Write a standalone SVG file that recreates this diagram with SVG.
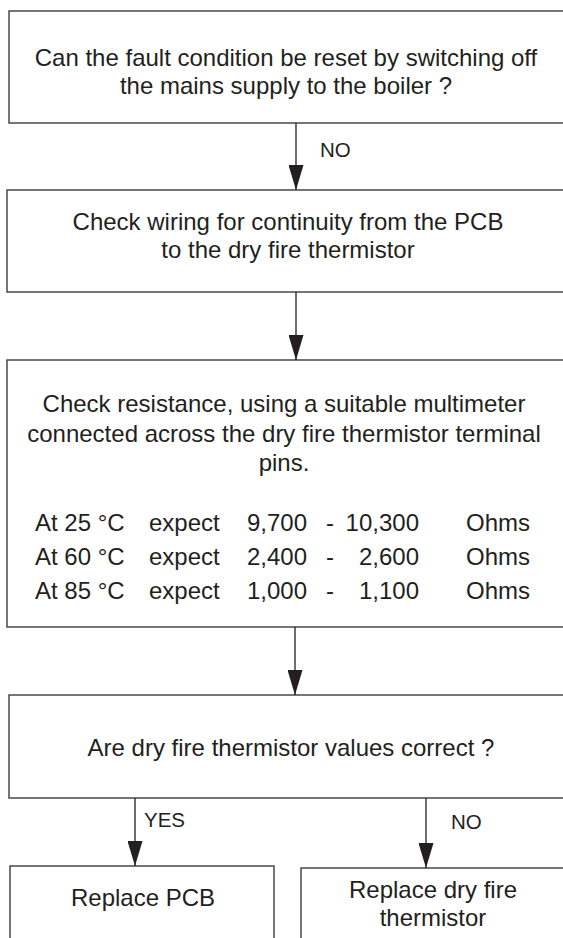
<svg xmlns="http://www.w3.org/2000/svg" width="563" height="938" viewBox="0 0 563 938">
<defs>
<style>
.box{fill:#fff;stroke:#3c3c3c;stroke-width:1.4}
.t{font-family:"Liberation Sans",Arial,sans-serif;font-size:24px;fill:#231f20;text-anchor:middle}
.tl{font-family:"Liberation Sans",Arial,sans-serif;font-size:24px;fill:#231f20}
.tr{font-family:"Liberation Sans",Arial,sans-serif;font-size:24px;fill:#231f20;text-anchor:end}
.lbl{font-family:"Liberation Sans",Arial,sans-serif;font-size:20.5px;fill:#231f20}
.c{stroke:#231f20;stroke-width:1.3;fill:none}
</style>
<marker id="ah" markerUnits="userSpaceOnUse" markerWidth="25" markerHeight="15" viewBox="0 0 25 15" refX="25" refY="7.5" orient="auto">
<path d="M0,0 L25,7.5 L0,15 Z" fill="#231f20"/>
</marker>
</defs>
<rect width="563" height="938" fill="#fff"/>
<g id="n1">
<rect class="box" x="9" y="11" width="570" height="112"/>
<text class="t" x="286" y="66">Can the fault condition be reset by switching off</text>
<text class="t" x="286" y="94">the mains supply to the boiler ?</text>
</g>
<g id="n2">
<rect class="box" x="7" y="190" width="572" height="102"/>
<text class="t" x="288" y="230">Check wiring for continuity from the PCB</text>
<text class="t" x="288" y="258">to the dry fire thermistor</text>
</g>
<g id="n3">
<rect class="box" x="7" y="360" width="572" height="267"/>
<text class="t" x="284" y="412">Check resistance, using a suitable multimeter</text>
<text class="t" x="284" y="442">connected across the dry fire thermistor terminal</text>
<text class="t" x="284" y="471">pins.</text>
<text class="tl" x="35" y="531">At 25 °C</text>
<text class="tl" x="149" y="531">expect</text>
<text class="tr" x="307" y="531">9,700</text>
<text class="t" x="330" y="531">-</text>
<text class="tr" x="419" y="531">10,300</text>
<text class="tl" x="466" y="531">Ohms</text>
<text class="tl" x="35" y="565">At 60 °C</text>
<text class="tl" x="149" y="565">expect</text>
<text class="tr" x="307" y="565">2,400</text>
<text class="t" x="330" y="565">-</text>
<text class="tr" x="419" y="565">2,600</text>
<text class="tl" x="466" y="565">Ohms</text>
<text class="tl" x="35" y="599">At 85 °C</text>
<text class="tl" x="149" y="599">expect</text>
<text class="tr" x="307" y="599">1,000</text>
<text class="t" x="330" y="599">-</text>
<text class="tr" x="419" y="599">1,100</text>
<text class="tl" x="466" y="599">Ohms</text>
</g>
<g id="n4">
<rect class="box" x="9" y="695" width="570" height="103"/>
<text class="t" x="291" y="756">Are dry fire thermistor values correct ?</text>
</g>
<g id="n5">
<rect class="box" x="10" y="866" width="264" height="90"/>
<text class="t" x="143" y="906">Replace PCB</text>
</g>
<g id="n6">
<rect class="box" x="301" y="868" width="280" height="90"/>
<text class="t" x="433" y="898">Replace dry fire</text>
<text class="t" x="433" y="926">thermistor</text>
</g>
<g id="connectors">
<line class="c" x1="296" y1="123" x2="296" y2="190" marker-end="url(#ah)"/>
<text class="lbl" x="320" y="157">NO</text>
<line class="c" x1="296" y1="292" x2="296" y2="360" marker-end="url(#ah)"/>
<line class="c" x1="295" y1="627" x2="295" y2="695" marker-end="url(#ah)"/>
<line class="c" x1="135" y1="798" x2="135" y2="866" marker-end="url(#ah)"/>
<text class="lbl" x="144" y="827">YES</text>
<line class="c" x1="426" y1="798" x2="426" y2="868" marker-end="url(#ah)"/>
<text class="lbl" x="451" y="829">NO</text>
</g>
</svg>
